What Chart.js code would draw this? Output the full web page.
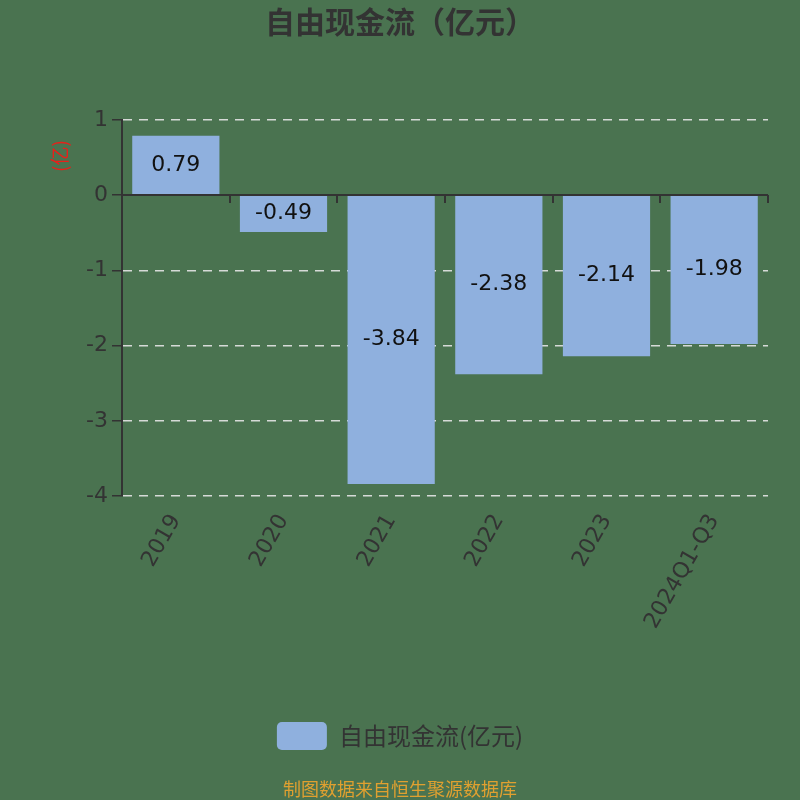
<!DOCTYPE html>
<html>
<head>
<meta charset="utf-8">
<script src="https://cdn.jsdelivr.net/npm/chart.js@4.4.1/dist/chart.umd.min.js"></script>
<style>
  html, body { margin: 0; padding: 0; background: #4a7350; }
  #wrap { width: 800px; height: 800px; }
</style>
</head>
<body>
<div id="wrap"><canvas id="c" width="800" height="800"></canvas></div>
<script>
const categories = ['2019', '2020', '2021', '2022', '2023', '2024Q1-Q3'];
const values = [0.79, -0.49, -3.84, -2.38, -2.14, -1.98];
const seriesName = '自由现金流(亿元)';
const chartTitle = '自由现金流（亿元）';
const unitLabel = '(亿)';
const footerText = '制图数据来自恒生聚源数据库';
const yMin = -4, yMax = 1, yStep = 1;

const FONT = '"DejaVu Sans", "Noto Sans CJK SC", sans-serif';
const CJK = '"Noto Sans CJK SC", "DejaVu Sans", sans-serif';
const TEXT = '#333333';
const BAR = '#8fb0de';

const bgPlugin = {
  id: 'bg',
  beforeDraw(chart) {
    const ctx = chart.ctx;
    ctx.save();
    ctx.fillStyle = '#4a7350';
    ctx.fillRect(0, 0, chart.width, chart.height);
    ctx.restore();
  }
};

const zeroAxisPlugin = {
  id: 'zeroAxis',
  afterDraw(chart) {
    const {ctx, chartArea, scales} = chart;
    const y0 = Math.round(scales.y.getPixelForValue(0));
    ctx.save();
    ctx.setLineDash([]);
    ctx.strokeStyle = TEXT;
    ctx.lineWidth = 2;
    ctx.beginPath();
    ctx.moveTo(chartArea.left, y0);
    ctx.lineTo(chartArea.right, y0);
    const n = categories.length;
    const w = (chartArea.right - chartArea.left) / n;
    for (let i = 1; i <= n; i++) {
      const x = Math.round(chartArea.left + i * w);
      ctx.moveTo(x, y0);
      ctx.lineTo(x, y0 + 8);
    }
    ctx.stroke();
    ctx.restore();
  }
};

const labelPlugin = {
  id: 'valueLabels',
  afterDatasetsDraw(chart) {
    const {ctx, scales} = chart;
    const meta = chart.getDatasetMeta(0);
    const y0 = scales.y.getPixelForValue(0);
    ctx.save();
    ctx.font = '22px ' + FONT;
    ctx.fillStyle = '#111111';
    ctx.textAlign = 'center';
    ctx.textBaseline = 'middle';
    meta.data.forEach((bar, i) => {
      const v = values[i];
      const yc = (y0 + scales.y.getPixelForValue(v)) / 2;
      ctx.fillText(v.toFixed(2), bar.x, yc);
    });
    ctx.restore();
  }
};

const extraTextPlugin = {
  id: 'extraText',
  afterDraw(chart) {
    const ctx = chart.ctx;
    ctx.save();
    ctx.translate(60, 156);
    ctx.rotate(-Math.PI / 2);
    ctx.font = '19px ' + CJK;
    ctx.fillStyle = '#e8201a';
    ctx.textAlign = 'center';
    ctx.textBaseline = 'middle';
    ctx.fillText(unitLabel, 0, 0);
    ctx.restore();
    ctx.save();
    ctx.font = '18px ' + CJK;
    ctx.fillStyle = '#e0a030';
    ctx.textAlign = 'center';
    ctx.textBaseline = 'middle';
    ctx.fillText(footerText, 400, 789);
    ctx.restore();
  }
};

new Chart(document.getElementById('c'), {
  type: 'bar',
  data: {
    labels: categories,
    datasets: [{
      label: seriesName,
      data: values,
      backgroundColor: BAR,
      borderWidth: 0,
      barPercentage: 0.81,
      categoryPercentage: 1.0
    }]
  },
  options: {
    responsive: false,
    animation: false,
    devicePixelRatio: 1,
    layout: { padding: { left: 32, right: 32, top: 0, bottom: 40 } },
    plugins: {
      title: {
        display: true,
        text: chartTitle,
        color: TEXT,
        font: { family: CJK, size: 30, weight: 'bold' },
        padding: { top: 4, bottom: 80 }
      },
      legend: {
        display: true,
        position: 'bottom',
        labels: {
          color: TEXT,
          font: { family: CJK, size: 24 },
          boxWidth: 50,
          boxHeight: 28,
          padding: 10,
          useBorderRadius: true,
          borderRadius: 5
        }
      },
      tooltip: { enabled: false }
    },
    scales: {
      x: {
        grid: { display: false },
        border: { display: false },
        ticks: {
          color: TEXT,
          font: { family: FONT, size: 22 },
          minRotation: 60,
          maxRotation: 60,
          padding: 6
        },
        afterFit(scale) {
          const lg = scale.chart.legend ? scale.chart.legend.height : 48;
          scale.height = 800 - 496 - lg - 40;
        }
      },
      y: {
        min: yMin,
        max: yMax,
        grid: {
          color: (c) => (c.tick && c.tick.value === 0) ? 'rgba(0,0,0,0)' : 'rgba(230,230,230,0.9)',
          lineWidth: 1.5,
          tickColor: TEXT,
          tickLength: 10,
          drawTicks: true
        },
        border: { display: true, color: TEXT, width: 2, dash: [9, 7] },
        ticks: {
          stepSize: yStep,
          color: TEXT,
          font: { family: FONT, size: 22 },
          padding: 4
        },
        afterFit(scale) { scale.width = 90; }
      }
    }
  },
  plugins: [bgPlugin, zeroAxisPlugin, labelPlugin, extraTextPlugin]
});
</script>
</body>
</html>
